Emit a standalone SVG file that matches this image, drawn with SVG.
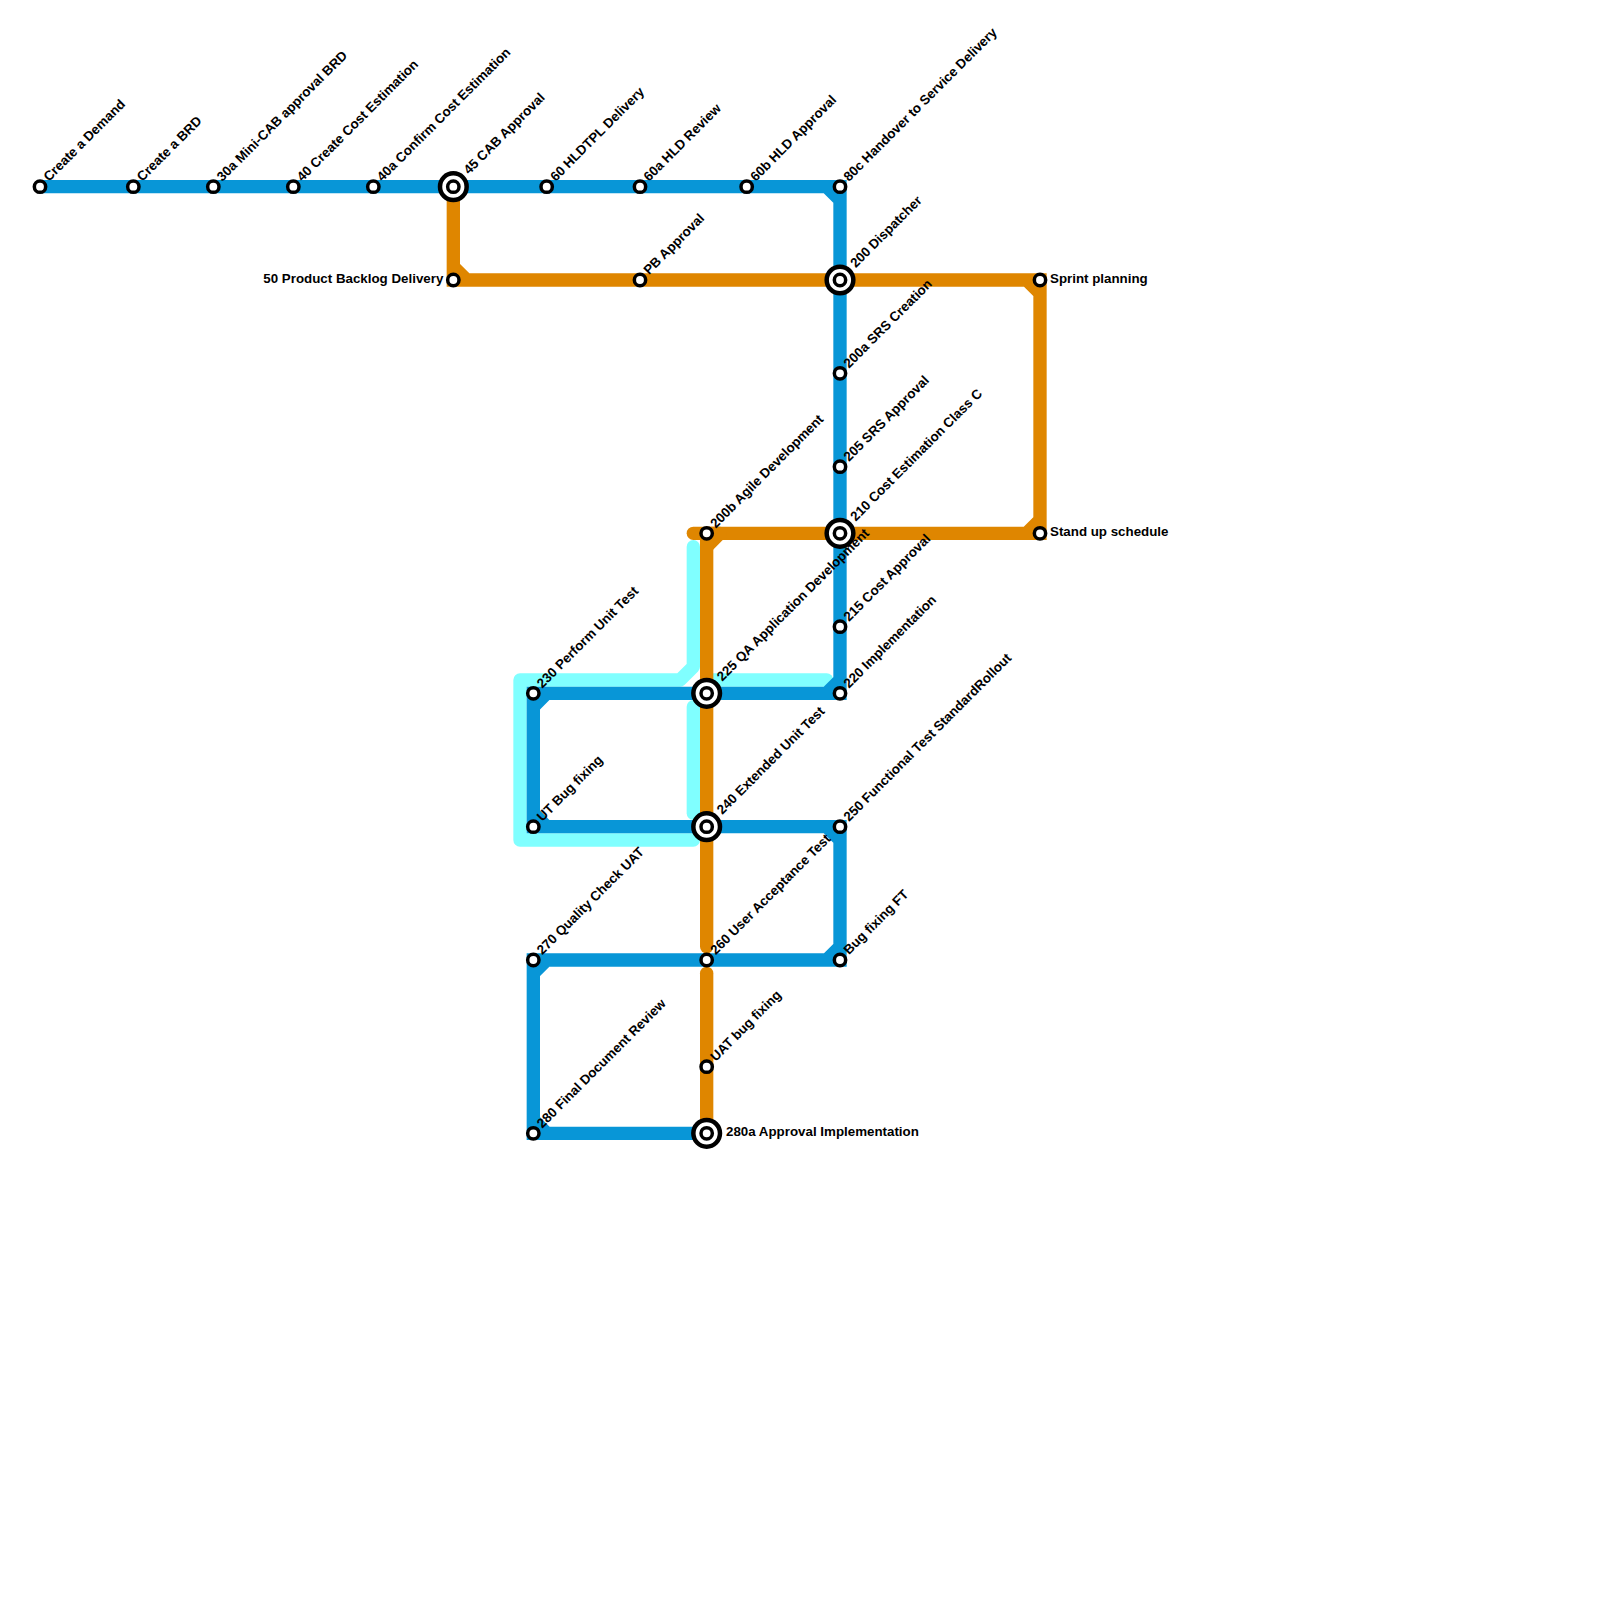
<svg xmlns="http://www.w3.org/2000/svg" width="1600" height="1600" viewBox="0 0 1600 1600">
<style>
.ln{fill:none;stroke-width:13.33;stroke-linejoin:miter}
.cy{stroke:#80ffff;stroke-linejoin:round;stroke-linecap:round}
.bl{stroke:#0896d7}
.or{stroke:#df8600}
.rc{stroke-linecap:round}
.ic{fill:#fff;stroke:#000;stroke-width:3.5}
.oc{fill:#fff;stroke:#000;stroke-width:4.5}
text{font-family:"Liberation Sans",Arial,sans-serif;font-weight:bold;font-size:13.33px;fill:#000}
</style>
<defs>
<circle id="s" r="5.67" class="ic"/>
<g id="x"><circle r="13.33" class="oc"/><circle r="5.67" class="ic"/></g>
</defs>
<rect width="1600" height="1600" fill="#fff"/>
<g id="connectors">
<path class="ln cy" d="M693.33 546.67V666.67L680 680H520V840H693.33"/>
<path class="ln cy" d="M693.33 706.67V813.33"/>
<path class="ln cy" d="M706.67 680H826.67"/>
<path class="ln or" d="M453.33 186.67V280H1040V533.33H706.67M453.33 266.67L466.67 280M1026.67 280L1040 293.33M1040 520L1026.67 533.33M720 533.33L706.67 546.67"/>
<path class="ln or rc" d="M693.33 533.33H720"/>
<path class="ln or rc" d="M706.67 533.33V946.67"/>
<path class="ln or rc" d="M706.67 973.33V1133.33"/>
<path class="ln bl" d="M40 186.67H840V693.33H533.33V826.67H840V960H533.33V1133.33H706.67M826.67 186.67L840 200M840 680L826.67 693.33M546.67 693.33L533.33 706.67M533.33 813.33L546.67 826.67M826.67 826.67L840 840M840 946.67L826.67 960M546.67 960L533.33 973.33M533.33 1120L546.67 1133.33"/>
</g>
<g id="n1"><use href="#s" x="40" y="186.67"/><text transform="translate(49 182) rotate(-45)">Create a Demand</text></g>
<g id="n2"><use href="#s" x="133.33" y="186.67"/><text transform="translate(142.33 182) rotate(-45)">Create a BRD</text></g>
<g id="n3"><use href="#s" x="213.33" y="186.67"/><text transform="translate(222.33 182) rotate(-45)">30a Mini-CAB approval BRD</text></g>
<g id="n4"><use href="#s" x="293.33" y="186.67"/><text transform="translate(302.33 182) rotate(-45)">40 Create Cost Estimation</text></g>
<g id="n5"><use href="#s" x="373.33" y="186.67"/><text transform="translate(382.33 182) rotate(-45)">40a Confirm Cost Estimation</text></g>
<g id="n6"><use href="#x" x="453.33" y="186.67"/><text transform="translate(469 175) rotate(-45)">45 CAB Approval</text></g>
<g id="n7"><use href="#s" x="453.33" y="280"/><text x="443.33" y="283" text-anchor="end">50 Product Backlog Delivery</text></g>
<g id="n8"><use href="#s" x="546.67" y="186.67"/><text transform="translate(555.67 182) rotate(-45)">60 HLDTPL Delivery</text></g>
<g id="n9"><use href="#s" x="640" y="186.67"/><text transform="translate(649 182) rotate(-45)">60a HLD Review</text></g>
<g id="n10"><use href="#s" x="746.67" y="186.67"/><text transform="translate(755.67 182) rotate(-45)">60b HLD Approval</text></g>
<g id="n11"><use href="#s" x="840" y="186.67"/><text transform="translate(849 182) rotate(-45)">80c Handover to Service Delivery</text></g>
<g id="n12"><use href="#s" x="640" y="280"/><text transform="translate(649 275.33) rotate(-45)">PB Approval</text></g>
<g id="n13"><use href="#x" x="840" y="280"/><text transform="translate(855.67 268.33) rotate(-45)">200 Dispatcher</text></g>
<g id="n14"><use href="#s" x="1040" y="280"/><text x="1050" y="283">Sprint planning</text></g>
<g id="n15"><use href="#s" x="840" y="373.33"/><text transform="translate(849 368.67) rotate(-45)">200a SRS Creation</text></g>
<g id="n16"><use href="#s" x="840" y="466.67"/><text transform="translate(849 462) rotate(-45)">205 SRS Approval</text></g>
<g id="n17"><use href="#x" x="840" y="533.33"/><text transform="translate(855.67 521.67) rotate(-45)">210 Cost Estimation Class C</text></g>
<g id="n18"><use href="#s" x="1040" y="533.33"/><text x="1050" y="536.33">Stand up schedule</text></g>
<g id="n19"><use href="#s" x="706.67" y="533.33"/><text transform="translate(715.67 528.67) rotate(-45)">200b Agile Development</text></g>
<g id="n20"><use href="#s" x="840" y="626.67"/><text transform="translate(849 622) rotate(-45)">215 Cost Approval</text></g>
<g id="n21"><use href="#s" x="840" y="693.33"/><text transform="translate(849 688.67) rotate(-45)">220 Implementation</text></g>
<g id="n22"><use href="#x" x="706.67" y="693.33"/><text transform="translate(722.33 681.67) rotate(-45)">225 QA Application Development</text></g>
<g id="n23"><use href="#s" x="533.33" y="693.33"/><text transform="translate(542.33 688.67) rotate(-45)">230 Perform Unit Test</text></g>
<g id="n24"><use href="#s" x="533.33" y="826.67"/><text transform="translate(542.33 822) rotate(-45)">UT Bug fixing</text></g>
<g id="n25"><use href="#x" x="706.67" y="826.67"/><text transform="translate(722.33 815) rotate(-45)">240 Extended Unit Test</text></g>
<g id="n26"><use href="#s" x="840" y="826.67"/><text transform="translate(849 822) rotate(-45)">250 Functional Test StandardRollout</text></g>
<g id="n27"><use href="#s" x="706.67" y="960"/><text transform="translate(715.67 955.33) rotate(-45)">260 User Acceptance Test</text></g>
<g id="n28"><use href="#s" x="840" y="960"/><text transform="translate(849 955.33) rotate(-45)">Bug fixing FT</text></g>
<g id="n29"><use href="#s" x="533.33" y="960"/><text transform="translate(542.33 955.33) rotate(-45)">270 Quality Check UAT</text></g>
<g id="n30"><use href="#s" x="706.67" y="1066.67"/><text transform="translate(715.67 1062) rotate(-45)">UAT bug fixing</text></g>
<g id="n31"><use href="#s" x="533.33" y="1133.33"/><text transform="translate(542.33 1128.67) rotate(-45)">280 Final Document Review</text></g>
<g id="n32"><use href="#x" x="706.67" y="1133.33"/><text x="726" y="1136.33">280a Approval Implementation</text></g>
</svg>
